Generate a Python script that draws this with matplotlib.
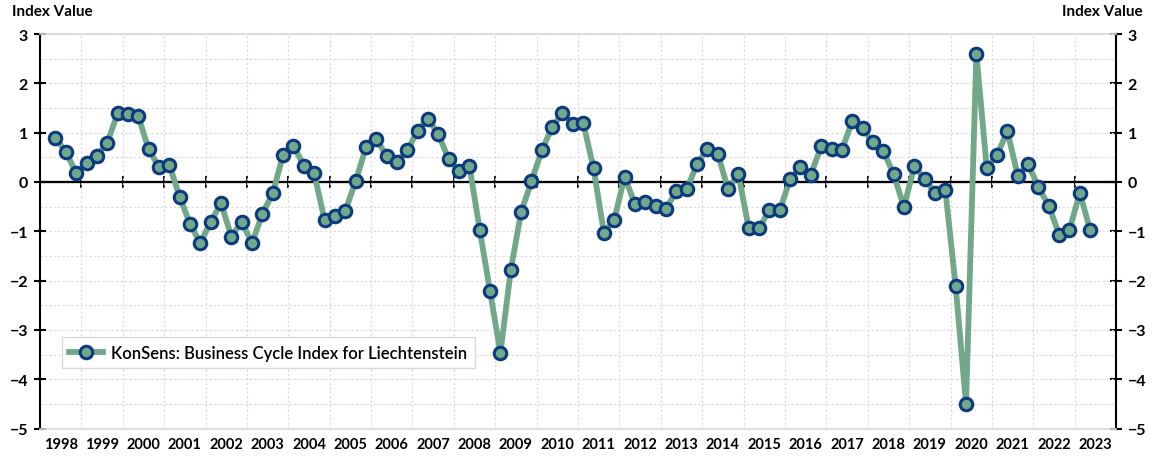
import matplotlib
matplotlib.use("Agg")
import matplotlib.pyplot as plt
import numpy as np

# --- Data: quarterly index, 1998 Q2 .. 2023 Q2 -------------------------------
start_year = 1998
start_quarter = 2
index_values = [
    0.90, 0.61, 0.18, 0.38, 0.53, 0.79, 1.39, 1.37, 1.34, 0.66,
    0.30, 0.35, -0.30, -0.85, -1.24, -0.81, -0.43, -1.11, -0.81, -1.24,
    -0.64, -0.23, 0.55, 0.73, 0.33, 0.18, -0.77, -0.69, -0.59, 0.01,
    0.70, 0.87, 0.53, 0.41, 0.64, 1.04, 1.28, 0.97, 0.46, 0.23,
    0.33, -0.97, -2.22, -3.47, -1.79, -0.61, 0.01, 0.64, 1.11, 1.40,
    1.18, 1.20, 0.28, -1.03, -0.77, 0.11, -0.45, -0.40, -0.48, -0.55,
    -0.18, -0.15, 0.36, 0.67, 0.57, -0.14, 0.16, -0.94, -0.94, -0.57,
    -0.57, 0.05, 0.31, 0.15, 0.72, 0.67, 0.64, 1.24, 1.09, 0.80,
    0.63, 0.16, -0.51, 0.32, 0.06, -0.22, -0.16, -2.12, -4.50, 2.60,
    0.29, 0.55, 1.03, 0.13, 0.37, -0.11, -0.48, -1.07, -0.97, -0.22,
    -0.98,
]
year_labels = [str(y) for y in range(1998, 2024)]
series_label = "KonSens: Business Cycle Index for Liechtenstein"

# --- Style -------------------------------------------------------------------
LINE = "#72a88a"
EDGE = "#0b3a80"
GRID = "#d9d9d9"
FONT = ["Lato", "DejaVu Sans"]
plt.rcParams["font.family"] = FONT

# x position: centre of each quarter, in fractional years
q_idx = np.arange(len(index_values)) + (start_quarter - 1)
x = start_year + q_idx / 4.0 + 0.125

fig = plt.figure(figsize=(11.52, 4.6), dpi=100)
ax = fig.add_axes([0.0347, 0.0663, 0.9341, 0.8576])

n_years = len(year_labels)
x0, x1 = start_year, start_year + n_years
ax.set_xlim(x0, x1)
ax.set_ylim(-5, 3)

# grid: year boundaries and half units
ax.set_xticks(np.arange(x0 + 1, x1))
ax.set_xticks(np.arange(x0, x1) + 0.5, minor=True)
ax.set_xticklabels([], minor=False)
ax.set_xticklabels(year_labels, minor=True, fontsize=10.5, fontweight="bold")
ax.tick_params(axis="x", which="both", length=0, pad=6)
ax.grid(True, axis="x", which="major", color=GRID, linestyle=(0, (2, 2)), lw=0.8)
ax.set_yticks(np.arange(-5, 3.01, 1))
ax.set_yticks(np.arange(-4.5, 3, 1), minor=True)
ax.grid(True, axis="y", which="both", color=GRID, linestyle=(0, (2, 2)), lw=0.8)
ax.set_axisbelow(True)

ax.tick_params(axis="y", which="major", direction="inout", length=9, width=1.5,
               labelsize=11.5, pad=4)
ax.tick_params(axis="y", which="minor", length=0)
for lbl in ax.get_yticklabels():
    lbl.set_fontweight("bold")

for side in ("top", "bottom"):
    ax.spines[side].set_color(GRID)
    ax.spines[side].set_linewidth(1.2)
ax.spines["left"].set_linewidth(1.5)
ax.spines["right"].set_visible(False)

# right axis mirror
axr = ax.twinx()
axr.set_ylim(ax.get_ylim())
axr.set_yticks(np.arange(-5, 3.01, 1))
axr.tick_params(axis="y", direction="inout", length=9, width=1.5,
                labelsize=11.5, pad=4)
for lbl in axr.get_yticklabels():
    lbl.set_fontweight("bold")
axr.spines["right"].set_linewidth(1.5)
for side in ("top", "bottom", "left"):
    axr.spines[side].set_visible(False)

# zero line with year ticks
axz = ax.twiny()
axz.set_xlim(ax.get_xlim())
axz.spines["bottom"].set_position(("data", 0))
axz.xaxis.set_ticks_position("bottom")
axz.set_xticks(np.arange(x0 + 1, x1))
axz.tick_params(axis="x", direction="inout", length=8, width=1.3, labelbottom=False)
axz.spines["bottom"].set_linewidth(1.5)
for side in ("top", "left", "right"):
    axz.spines[side].set_visible(False)

ax.axhline(0, color="black", lw=1.6, zorder=2)

# the series
ax.plot(x, index_values, color=LINE, lw=4.2, marker="o", markersize=9,
        markerfacecolor=LINE, markeredgecolor=EDGE, markeredgewidth=2.2,
        label=series_label, zorder=5, clip_on=False)
ax.set_zorder(axz.get_zorder() + 1)
ax.patch.set_visible(False)

leg = ax.legend(loc="lower left", bbox_to_anchor=(0.0204, 0.153),
                borderaxespad=0, fancybox=False, edgecolor=GRID,
                framealpha=1, fontsize=12, handlelength=2.0,
                borderpad=0.45, handletextpad=0.5)
leg.get_frame().set_linewidth(1.0)
for t in leg.get_texts():
    t.set_fontweight("semibold")

fig.text(0.010, 0.975, "Index Value", ha="left", va="center",
         fontsize=11, fontweight="bold")
fig.text(0.992, 0.975, "Index Value", ha="right", va="center",
         fontsize=11, fontweight="bold")

fig.savefig("out.png", dpi=100)
